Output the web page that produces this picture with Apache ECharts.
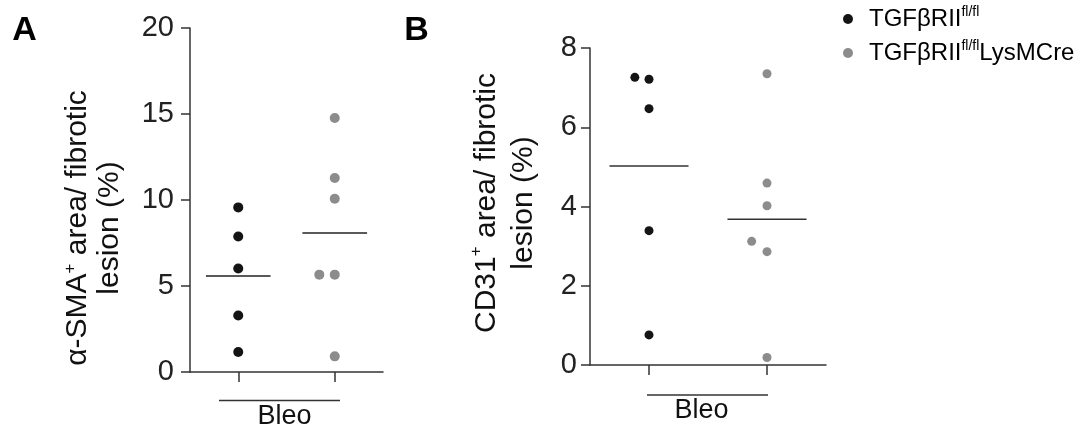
<!DOCTYPE html>
<html>
<head>
<meta charset="utf-8">
<script src="https://cdn.jsdelivr.net/npm/echarts@6/dist/echarts.min.js"></script>
<style>
  html, body { margin: 0; padding: 0; background: #fff; }
  #chart { width: 1087px; height: 430px; }
</style>
</head>
<body>
<div id="chart"></div>
<script>
// ---- data ----
const groups = ['TGFβRII fl/fl', 'TGFβRII fl/fl LysMCre'];
const groupX = [1, 2];

// Panel A: α-SMA+ area / fibrotic lesion (%)
const aBlack = [9.57, 7.88, 6.02, 3.29, 1.16];
const aBlackJitter = [0, 0, 0, 0, 0];
const aGray = [14.77, 11.28, 10.07, 5.66, 5.66, 0.91];
const aGrayJitter = [0, 0, 0, -0.16, 0, 0];
const aMeans = [5.58, 8.08];
const aTicks = { min: 0, max: 20, step: 5 };

// Panel B: CD31+ area / fibrotic lesion (%)
const bBlack = [7.26, 7.21, 6.47, 3.39, 0.76];
const bBlackJitter = [-0.12, 0, 0, 0, 0];
const bGray = [7.35, 4.59, 4.02, 3.12, 2.86, 0.19];
const bGrayJitter = [0, 0, 0, -0.13, 0, 0];
const bMeans = [5.02, 3.68];
const bTicks = { min: 0, max: 8, step: 2 };

const xLabel = 'Bleo';

// ---- styling ----
const FONT = '"Liberation Sans", Arial, Helvetica, sans-serif';
const BLACK = '#141414';
const GRAY = '#8c8c8c';
const AXIS = '#333333';

function pts(vals, jitter, gx) {
  return vals.map((v, i) => [gx + jitter[i], v]);
}

function yAxisCfg(gridIndex, t, margin) {
  return {
    type: 'value', gridIndex, min: t.min, max: t.max, interval: t.step,
    axisLine: { show: true, lineStyle: { color: AXIS, width: 1.5 } },
    axisTick: { show: true, length: 9, lineStyle: { color: AXIS, width: 1.5 } },
    axisLabel: { color: '#222', fontSize: 29, fontFamily: FONT, margin: margin },
    splitLine: { show: false }
  };
}
function xAxisCfg(gridIndex) {
  return {
    type: 'value', gridIndex, min: 0.5, max: 2.5,
    axisLine: { show: true, onZero: false, lineStyle: { color: AXIS, width: 1.5 } },
    axisTick: { show: true, length: 10, customValues: groupX, lineStyle: { color: AXIS, width: 1.5 } },
    axisLabel: { show: false },
    splitLine: { show: false }
  };
}
function meanSeries(name, gridIdx, means, stroke) {
  return {
    type: 'custom', name, xAxisIndex: gridIdx, yAxisIndex: gridIdx, silent: true, z: 3,
    data: means.map((m, i) => [groupX[i], m]),
    renderItem: function (params, api) {
      const x = api.value(0), y = api.value(1);
      const p1 = api.coord([x - 0.335, y]);
      const p2 = api.coord([x + 0.335, y]);
      return { type: 'line', shape: { x1: p1[0], y1: p1[1], x2: p2[0], y2: p2[1] },
               style: { stroke: stroke, lineWidth: 1.5 } };
    }
  };
}
function dotSeries(name, gridIdx, data, color, size) {
  return {
    type: 'scatter', name, xAxisIndex: gridIdx, yAxisIndex: gridIdx,
    symbol: 'circle', symbolSize: size, data,
    itemStyle: { color: color, opacity: 1 }, z: 4
  };
}

const titleRich = {
  n: { fontSize: 30, fontFamily: FONT, color: '#111' },
  s: { fontSize: 17, fontFamily: FONT, color: '#111', verticalAlign: 'top', lineHeight: 17 }
};

const option = {
  backgroundColor: '#fff',
  animation: false,
  grid: [
    { left: 190, top: 28, width: 193, bottom: 58, containLabel: false },
    { left: 590, top: 48, width: 236, bottom: 65, containLabel: false }
  ],
  xAxis: [xAxisCfg(0), xAxisCfg(1)],
  yAxis: [yAxisCfg(0, aTicks, 16), yAxisCfg(1, bTicks, 13)],
  legend: {
    orient: 'vertical', left: 838, top: 0, itemGap: 8,
    itemWidth: 10, itemHeight: 10, icon: 'circle',
    data: groups,
    formatter: function (name) {
      if (name === groups[0]) return '{g|}{t|TGFβRII}{s|fl/fl}';
      return '{g|}{t|TGFβRII}{s|fl/fl}{t|LysMCre}';
    },
    textStyle: {
      color: '#000',
      rich: {
        g: { width: 11 },
        t: { fontSize: 24, fontFamily: FONT, color: '#000', lineHeight: 28 },
        s: { fontSize: 14, fontFamily: FONT, color: '#000', verticalAlign: 'top', lineHeight: 14 }
      }
    }
  },
  series: [
    meanSeries('meanA', 0, aMeans, '#222'),
    meanSeries('meanB', 1, bMeans, '#333'),
    dotSeries(groups[0], 0, pts(aBlack, aBlackJitter, groupX[0]), BLACK, 10),
    dotSeries(groups[1], 0, pts(aGray, aGrayJitter, groupX[1]), GRAY, 10),
    dotSeries(groups[0], 1, pts(bBlack, bBlackJitter, groupX[0]), BLACK, 9),
    dotSeries(groups[1], 1, pts(bGray, bGrayJitter, groupX[1]), GRAY, 9)
  ],
  graphic: [
    { type: 'text', x: 24.5, y: 31, style: { text: 'A', font: 'bold 34px ' + FONT, fill: '#000', align: 'center', verticalAlign: 'middle' } },
    { type: 'text', x: 416.5, y: 31, style: { text: 'B', font: 'bold 34px ' + FONT, fill: '#000', align: 'center', verticalAlign: 'middle' } },
    { type: 'text', x: 94, y: 228, rotation: Math.PI / 2,
      style: { text: '{n|α-SMA}{s|+}{n| area/ fibrotic}\n{n|lesion (%)}', rich: titleRich,
               align: 'center', verticalAlign: 'middle', lineHeight: 32, fill: '#111' } },
    { type: 'text', x: 505, y: 203, rotation: Math.PI / 2,
      style: { text: '{n|CD31}{s|+}{n| area/ fibrotic}\n{n|lesion (%)}', rich: titleRich,
               align: 'center', verticalAlign: 'middle', lineHeight: 37, fill: '#111' } },
    { type: 'line', shape: { x1: 219, y1: 400.5, x2: 340, y2: 400.5 }, style: { stroke: AXIS, lineWidth: 1.5 } },
    { type: 'text', x: 284.5, y: 417, style: { text: xLabel, font: '27px ' + FONT, fill: '#111', align: 'center', verticalAlign: 'middle' } },
    { type: 'line', shape: { x1: 647, y1: 395, x2: 768, y2: 395 }, style: { stroke: AXIS, lineWidth: 1.5 } },
    { type: 'text', x: 701.5, y: 411, style: { text: xLabel, font: '27px ' + FONT, fill: '#111', align: 'center', verticalAlign: 'middle' } }
  ]
};

const chart = echarts.init(document.getElementById('chart'), null, { renderer: 'canvas' });
chart.setOption(option);
</script>
</body>
</html>
